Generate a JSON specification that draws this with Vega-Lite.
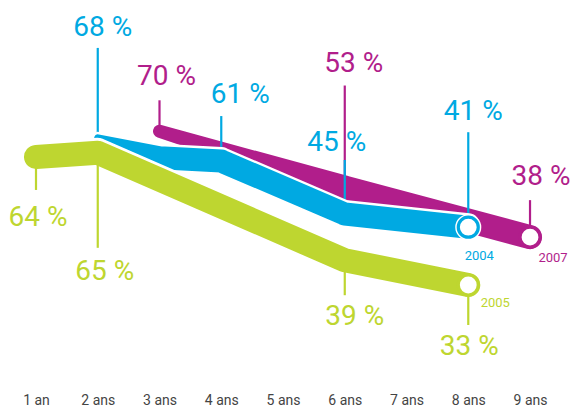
{
  "$schema": "https://vega.github.io/schema/vega-lite/v6.json",
  "width": 573,
  "height": 380,
  "autosize": {"type": "none"},
  "padding": {"left": 0, "right": 0, "top": 0, "bottom": 29},
  "background": "white",
  "config": {
    "view": {"stroke": null},
    "text": {"font": "Roboto", "fontSize": 28, "baseline": "middle"},
    "rule": {"strokeWidth": 2.2}
  },
  "data": {
    "values": [
      {"cohort": "2005", "year": 1, "value": 64, "label": "64 %"},
      {"cohort": "2005", "year": 2, "value": 65, "label": "65 %"},
      {"cohort": "2005", "year": 6, "value": 39, "label": "39 %"},
      {"cohort": "2005", "year": 8, "value": 33, "label": "33 %"},
      {"cohort": "2004", "year": 2, "value": 68, "label": "68 %"},
      {"cohort": "2004", "year": 3, "value": 62, "label": ""},
      {"cohort": "2004", "year": 4, "value": 61, "label": "61 %"},
      {"cohort": "2004", "year": 6, "value": 45, "label": "45 %"},
      {"cohort": "2004", "year": 8, "value": 41, "label": "41 %"},
      {"cohort": "2007", "year": 3, "value": 70, "label": "70 %"},
      {"cohort": "2007", "year": 6, "value": 53, "label": "53 %"},
      {"cohort": "2007", "year": 9, "value": 38, "label": "38 %"}
    ]
  },
  "encoding": {
    "x": {
      "field": "year",
      "type": "quantitative",
      "scale": {"domain": [0.417, 9.696], "nice": false, "zero": false},
      "axis": {
        "values": [1, 2, 3, 4, 5, 6, 7, 8, 9],
        "labelExpr": "datum.value == 1 ? '1 an' : datum.value + ' ans'",
        "title": null,
        "domain": false,
        "ticks": false,
        "tickSize": 0,
        "grid": false,
        "labelPadding": 13,
        "labelFont": "Liberation Sans Narrow, Roboto",
        "labelFontSize": 14,
        "labelColor": "#444444"
      }
    }
  },
  "layer": [
    {
      "encoding": {
        "y": {"field": "value", "type": "quantitative", "scale": {"domain": [-5.2, 109.7], "nice": false, "zero": false}, "axis": null}
      },
      "layer": [
        {"transform": [{"filter": "datum.label == '70 %'"}], "mark": {"type": "rule", "color": "#B11E8B", "y2Offset": -31}, "encoding": {"y2": {"field": "value"}}},
        {"transform": [{"filter": "datum.label == '53 %'"}], "mark": {"type": "rule", "color": "#B11E8B", "y2Offset": -102}, "encoding": {"y2": {"field": "value"}}},
        {"transform": [{"filter": "datum.label == '38 %'"}], "mark": {"type": "rule", "color": "#B11E8B", "y2Offset": -37}, "encoding": {"y2": {"field": "value"}}},
        {
          "transform": [{"filter": "datum.cohort == '2007'"}],
          "mark": {"type": "trail", "color": "#B11E8B"},
          "encoding": {"size": {"field": "year", "type": "quantitative", "scale": {"domain": [3, 4], "range": [13, 24], "clamp": true, "zero": false}, "legend": null}}
        },
        {"transform": [{"filter": "datum.label == '68 %'"}], "mark": {"type": "rule", "color": "#00A9E2", "y2Offset": -90}, "encoding": {"y2": {"field": "value"}}},
        {"transform": [{"filter": "datum.label == '61 %'"}], "mark": {"type": "rule", "color": "#00A9E2", "y2Offset": -45}, "encoding": {"y2": {"field": "value"}}},
        {"transform": [{"filter": "datum.label == '45 %'"}], "mark": {"type": "rule", "color": "#00A9E2", "y2Offset": -54}, "encoding": {"y2": {"field": "value"}}},
        {"transform": [{"filter": "datum.label == '41 %'"}], "mark": {"type": "rule", "color": "#00A9E2", "y2Offset": -95}, "encoding": {"y2": {"field": "value"}}},
        {
          "transform": [{"filter": "datum.cohort == '2004'"}],
          "mark": {"type": "trail", "color": "white", "yOffset": -2.5},
          "encoding": {"size": {"field": "year", "type": "quantitative", "scale": {"domain": [2, 3], "range": [7, 23], "clamp": true, "zero": false}, "legend": null}}
        },
        {
          "transform": [{"filter": "datum.cohort == '2004'"}],
          "mark": {"type": "trail", "color": "#00A9E2"},
          "encoding": {"size": {"field": "year", "type": "quantitative", "scale": {"domain": [2, 3], "range": [7, 23], "clamp": true, "zero": false}, "legend": null}}
        },
        {"transform": [{"filter": "datum.label == '41 %'"}], "mark": {"type": "point", "shape": "circle", "filled": true, "fill": "white", "strokeWidth": 0, "size": 680, "opacity": 1}, "encoding": {}},
        {"transform": [{"filter": "datum.label == '41 %'"}], "mark": {"type": "point", "shape": "circle", "filled": true, "fill": "white", "stroke": "#00A9E2", "strokeWidth": 3.2, "size": 400, "opacity": 1}, "encoding": {}},
        {"transform": [{"filter": "datum.label == '38 %'"}], "mark": {"type": "point", "shape": "circle", "filled": true, "fill": "white", "stroke": "#B11E8B", "strokeWidth": 3.2, "size": 400, "opacity": 1}, "encoding": {}},
        {"transform": [{"filter": "datum.label == '70 %'"}], "mark": {"type": "text", "color": "#B11E8B", "dx": 7, "dy": -54}, "encoding": {"text": {"field": "label"}}},
        {"transform": [{"filter": "datum.label == '53 %'"}], "mark": {"type": "text", "color": "#B11E8B", "dx": 9, "dy": -124}, "encoding": {"text": {"field": "label"}}},
        {"transform": [{"filter": "datum.label == '38 %'"}], "mark": {"type": "text", "color": "#B11E8B", "dx": 11, "dy": -60}, "encoding": {"text": {"field": "label"}}},
        {"transform": [{"filter": "datum.label == '68 %'"}], "mark": {"type": "text", "color": "#00A9E2", "dx": 5, "dy": -110}, "encoding": {"text": {"field": "label"}}},
        {"transform": [{"filter": "datum.label == '61 %'"}], "mark": {"type": "text", "color": "#00A9E2", "dx": 19, "dy": -66}, "encoding": {"text": {"field": "label"}}},
        {"transform": [{"filter": "datum.label == '45 %'"}], "mark": {"type": "text", "color": "#00A9E2", "dx": -8, "dy": -71}, "encoding": {"text": {"field": "label"}}},
        {"transform": [{"filter": "datum.label == '41 %'"}], "mark": {"type": "text", "color": "#00A9E2", "dx": 5, "dy": -115}, "encoding": {"text": {"field": "label"}}},
        {"transform": [{"filter": "datum.label == '41 %'"}], "mark": {"type": "text", "color": "#00A9E2", "fontSize": 13, "dx": 11, "dy": 29}, "encoding": {"text": {"field": "cohort"}}},
        {"transform": [{"filter": "datum.label == '38 %'"}], "mark": {"type": "text", "color": "#B11E8B", "fontSize": 13, "dx": 23, "dy": 21}, "encoding": {"text": {"field": "cohort"}}}
      ],
      "resolve": {"scale": {"size": "independent"}}
    },
    {
      "transform": [{"filter": "datum.cohort == '2005'"}],
      "encoding": {
        "y": {"field": "value", "type": "quantitative", "scale": {"domain": [10, 102], "nice": false, "zero": false}, "axis": null}
      },
      "layer": [
        {"transform": [{"filter": "datum.label == '64 %'"}], "mark": {"type": "rule", "color": "#BED630", "y2Offset": 33}, "encoding": {"y2": {"field": "value"}}},
        {"transform": [{"filter": "datum.label == '65 %'"}], "mark": {"type": "rule", "color": "#BED630", "y2Offset": 95}, "encoding": {"y2": {"field": "value"}}},
        {"transform": [{"filter": "datum.label == '39 %'"}], "mark": {"type": "rule", "color": "#BED630", "y2Offset": 35}, "encoding": {"y2": {"field": "value"}}},
        {"transform": [{"filter": "datum.label == '33 %'"}], "mark": {"type": "rule", "color": "#BED630", "y2Offset": 40}, "encoding": {"y2": {"field": "value"}}},
        {"mark": {"type": "trail", "color": "white", "yOffset": -3, "size": 24}, "encoding": {}},
        {"mark": {"type": "trail", "color": "#BED630", "size": 24}, "encoding": {}},
        {"transform": [{"filter": "datum.label == '33 %'"}], "mark": {"type": "point", "shape": "circle", "filled": true, "fill": "white", "stroke": "#BED630", "strokeWidth": 3.2, "size": 400, "opacity": 1}, "encoding": {}},
        {"transform": [{"filter": "datum.label == '64 %'"}], "mark": {"type": "text", "color": "#BED630", "dx": 2, "dy": 61}, "encoding": {"text": {"field": "label"}}},
        {"transform": [{"filter": "datum.label == '65 %'"}], "mark": {"type": "text", "color": "#BED630", "dx": 7, "dy": 119}, "encoding": {"text": {"field": "label"}}},
        {"transform": [{"filter": "datum.label == '39 %'"}], "mark": {"type": "text", "color": "#BED630", "dx": 10, "dy": 57}, "encoding": {"text": {"field": "label"}}},
        {"transform": [{"filter": "datum.label == '33 %'"}], "mark": {"type": "text", "color": "#BED630", "dx": 1, "dy": 62}, "encoding": {"text": {"field": "label"}}},
        {"transform": [{"filter": "datum.label == '33 %'"}], "mark": {"type": "text", "color": "#BED630", "fontSize": 13, "dx": 27, "dy": 18}, "encoding": {"text": {"field": "cohort"}}}
      ]
    }
  ],
  "resolve": {"scale": {"y": "independent", "size": "independent"}}
}
